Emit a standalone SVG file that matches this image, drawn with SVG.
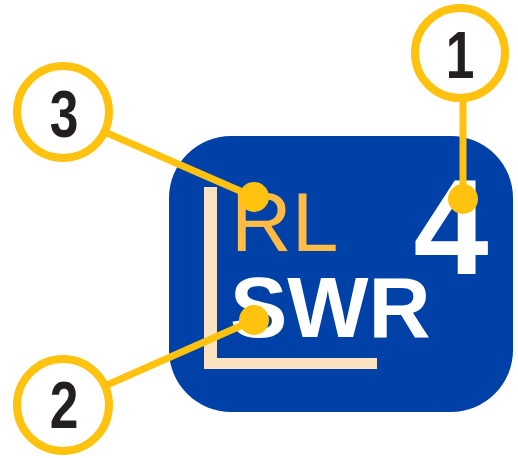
<svg xmlns="http://www.w3.org/2000/svg" width="518" height="458" viewBox="0 0 518 458">
<style>
.callout{fill:#fff;stroke:#FFC20E;stroke-width:8}
.num{font-family:"Liberation Sans",Arial,sans-serif;font-weight:bold;font-size:66px;fill:#231F20;text-anchor:middle}
.lead{stroke:#FFC20E;stroke-width:7;fill:none}
.dot{fill:#FFC20E}
</style>
<rect width="518" height="458" fill="#fff"/>
<g id="display">
<rect x="169" y="136" width="344" height="276" rx="62" ry="62" fill="#0041A8"/>
<path d="M204 187H217V358H377V369H204Z" fill="#FBE3C1"/>
<text x="231" y="251" font-family="Liberation Sans,Arial,sans-serif" font-size="84" fill="#FFBB44">RL</text>
<text x="230" y="337" font-family="Liberation Sans,Arial,sans-serif" font-size="86" font-weight="bold" fill="#fff">SWR</text>
<text x="451" y="274" font-family="Liberation Sans,Arial,sans-serif" font-size="135" font-weight="bold" fill="#fff" text-anchor="middle">4</text>
</g>
<g id="connectors">
<line class="lead" x1="107" y1="133" x2="254" y2="197"/>
<line class="lead" x1="107" y1="385" x2="254" y2="320"/>
<line class="lead" x1="463" y1="100" x2="463" y2="199"/>
<circle class="dot" cx="254" cy="197" r="15"/>
<circle class="dot" cx="254" cy="320" r="15"/>
<circle class="dot" cx="463" cy="199" r="15"/>
</g>
<g id="callout-3">
<circle class="callout" cx="63" cy="112" r="46"/>
<text class="num" transform="translate(64,137) scale(0.78,1)">3</text>
</g>
<g id="callout-2">
<circle class="callout" cx="63" cy="405" r="46"/>
<text class="num" transform="translate(64,428) scale(0.78,1)">2</text>
</g>
<g id="callout-1">
<circle class="callout" cx="460" cy="53" r="45"/>
<text class="num" transform="translate(460,78) scale(0.78,1)">1</text>
</g>
</svg>
